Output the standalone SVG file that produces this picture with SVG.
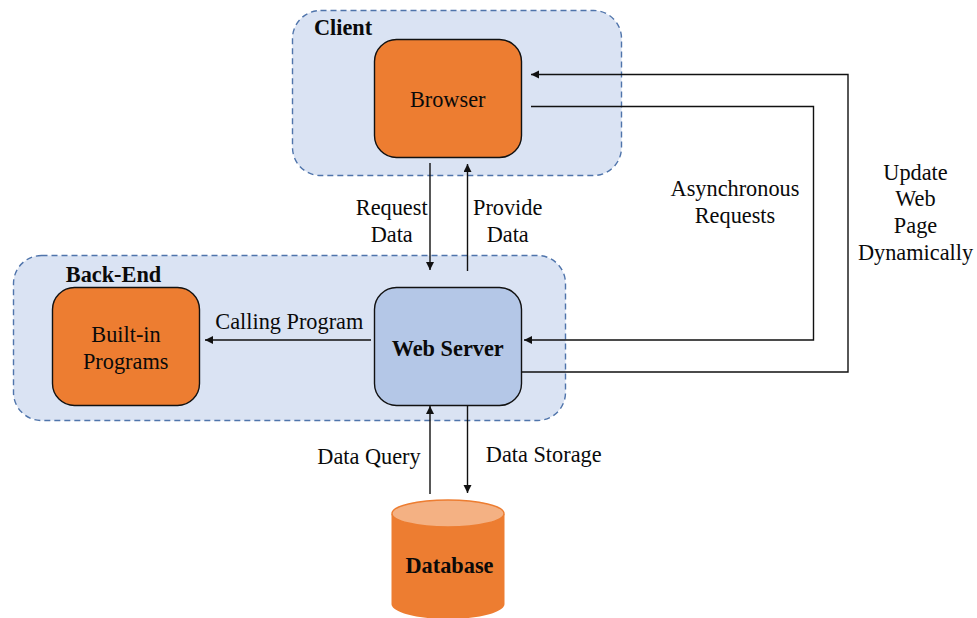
<svg xmlns="http://www.w3.org/2000/svg" width="977" height="618" viewBox="0 0 977 618">
<style>
text{font-family:"Liberation Serif","Times New Roman",serif;font-size:22.300px;fill:#0a0a0a;text-anchor:middle}
.b{font-weight:bold}
.grp{fill:#dae3f3;stroke:#4f74ab;stroke-width:1.4;stroke-dasharray:6 4}
.n{stroke:#111;stroke-width:1.4}
.o{fill:#ed7d31}
.c{fill:none;stroke:#111;stroke-width:1.4}
</style>
<defs><marker id="a" markerUnits="userSpaceOnUse" markerWidth="10" markerHeight="10" refX="8" refY="4" orient="auto"><path d="M0 0L8 4L0 8z" fill="#111"/></marker></defs>
<g id="client"><rect class="grp" x="292.500" y="10.500" width="329" height="165" rx="28"/><text class="b" x="343" y="34.500">Client</text></g>
<g id="backend"><rect class="grp" x="13.500" y="255.500" width="552" height="165" rx="28"/><text class="b" x="113.500" y="281.500">Back-End</text></g>
<g id="browser"><rect class="n o" x="374.500" y="39.500" width="147" height="118" rx="22"/><text x="447.700" y="106.500">Browser</text></g>
<g id="builtin"><rect class="n o" x="52.500" y="287.500" width="147" height="118" rx="22"/><text x="126" y="341.500">Built-in</text><text x="125.700" y="368.500">Programs</text></g>
<g id="webserver"><rect class="n" fill="#b4c7e7" x="374.500" y="287.500" width="147" height="118" rx="22"/><text class="b" x="447.700" y="355.500">Web Server</text></g>
<g id="database"><path d="M391.500 514V604C391.500 612 416 619 448 619S504.500 612 504.500 604V514z" fill="#ed7d31"/><ellipse cx="448" cy="513.500" rx="56" ry="13.500" fill="#f4b183" stroke="#ed7d31" stroke-width="1.400"/><text class="b" x="449.500" y="572.500">Database</text></g>
<g id="connectors">
<path class="c" marker-end="url(#a)" d="M430 163V270"/>
<path class="c" marker-end="url(#a)" d="M467.500 271V164"/>
<path class="c" marker-end="url(#a)" d="M371 340H205"/>
<path class="c" marker-end="url(#a)" d="M430 494V406"/>
<path class="c" marker-end="url(#a)" d="M467.500 406V493"/>
<path class="c" marker-end="url(#a)" d="M531 106.500H813.500V340H524"/>
<path class="c" marker-end="url(#a)" d="M522 372H848V74.500H531"/>
</g>
<g id="labels">
<text x="391.700" y="214.500">Request</text><text x="391.700" y="241.500">Data</text>
<text x="507.700" y="214.500">Provide</text><text x="507.700" y="241.500">Data</text>
<text x="289.300" y="328.500">Calling Program</text>
<text x="369" y="463.500">Data Query</text>
<text x="543.700" y="461.500">Data Storage</text>
<text x="735" y="195.500">Asynchronous</text><text x="735" y="222.500">Requests</text>
<text x="915.500" y="179.500">Update</text><text x="915.500" y="205.500">Web</text><text x="915.500" y="232.500">Page</text><text x="915.500" y="259.500">Dynamically</text>
</g>
</svg>
